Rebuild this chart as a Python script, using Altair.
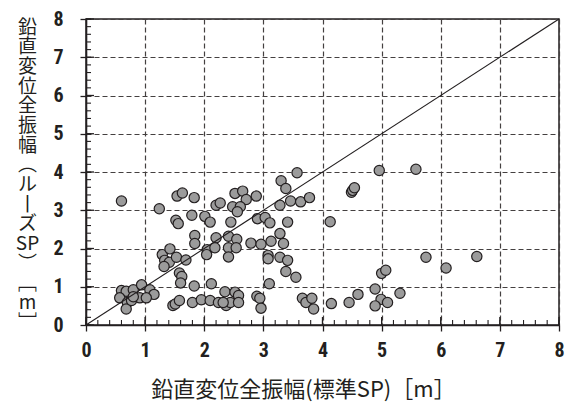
import altair as alt
import pandas as pd

# Full-amplitude vertical displacement: standard SP (x) vs loose SP (y), in metres
std_sp = [
    0.60, 1.24, 1.54, 1.63, 1.83, 1.52, 1.56, 1.79, 2.01, 2.10,
    2.20, 2.27, 2.52, 2.65, 2.88, 2.71, 2.48, 2.61, 2.56, 2.45,
    2.90, 3.03, 3.11, 3.28, 3.46, 3.63, 3.78, 3.30, 3.38, 3.57,
    3.41, 4.13, 4.49, 4.51, 4.54, 4.96, 5.58,
    1.84, 1.84, 2.20, 2.41, 2.55, 2.05, 2.18, 2.41, 2.54, 2.04,
    2.41, 2.79, 2.96, 3.13, 3.28, 3.34, 3.08, 3.08, 3.28, 3.41,
    3.38, 3.55, 3.10, 1.29, 1.42, 1.33, 1.41, 1.32, 1.53, 1.69,
    1.58, 1.62, 1.60, 1.83, 2.12,
    0.60, 0.68, 0.80, 0.94, 1.08, 1.15, 0.57, 0.70, 0.68, 0.77,
    0.91, 1.02, 0.80, 1.47, 1.51, 1.58, 1.80, 1.95, 2.10, 2.24,
    2.35, 2.37, 2.44, 2.52, 2.58, 2.58, 2.32, 2.89, 2.94, 2.96,
    3.66, 3.72, 3.82, 3.85, 4.15, 4.45, 4.60, 4.89, 4.99, 4.89,
    5.10, 5.31, 5.00, 5.07, 5.75, 6.09, 6.61,
]
loose_sp = [
    3.24, 3.04, 3.37, 3.45, 3.33, 2.74, 2.65, 2.87, 2.84, 2.69,
    3.13, 3.19, 3.44, 3.50, 3.37, 3.28, 3.09, 3.09, 2.96, 2.69,
    2.78, 2.81, 2.67, 3.13, 3.24, 3.22, 3.33, 3.77, 3.57, 3.98,
    2.69, 2.70, 3.47, 3.52, 3.59, 4.04, 4.07,
    2.34, 2.13, 2.28, 2.32, 2.24, 1.97, 2.02, 2.02, 2.02, 1.84,
    1.78, 2.14, 2.11, 2.19, 2.39, 2.13, 1.82, 1.73, 1.77, 1.69,
    1.40, 1.25, 1.08, 1.84, 1.99, 1.69, 1.64, 1.53, 1.77, 1.70,
    1.36, 1.27, 1.10, 1.02, 1.08,
    0.90, 0.88, 0.92, 1.05, 0.92, 0.80, 0.71, 0.59, 0.42, 0.64,
    0.71, 0.71, 0.74, 0.51, 0.55, 0.64, 0.59, 0.66, 0.64, 0.59,
    0.87, 0.51, 0.59, 0.86, 0.77, 0.59, 0.59, 0.75, 0.70, 0.44,
    0.70, 0.59, 0.70, 0.42, 0.56, 0.59, 0.80, 0.94, 0.67, 0.50,
    0.59, 0.83, 1.35, 1.43, 1.77, 1.49, 1.79,
]

axis_range = [0, 8]
major_ticks = [0, 1, 2, 3, 4, 5, 6, 7, 8]
minor_ticks = [round(i * 0.2, 1) for i in range(41)]
diag_ends = [0, 8]

W, H = 473, 306

pts = pd.DataFrame({"std": std_sp, "loose": loose_sp})
minor_df = pd.DataFrame({"std": minor_ticks, "loose": minor_ticks})
major_df = pd.DataFrame({"std": major_ticks, "loose": major_ticks})
diag_df = pd.DataFrame({"std": [diag_ends[0]], "loose": [diag_ends[0]],
                        "std2": [diag_ends[1]], "loose2": [diag_ends[1]]})

num_font = "Roboto Condensed, DejaVu Sans Condensed, Liberation Sans Narrow, sans-serif"
jp_font = "Noto Sans CJK JP"
ink = "#231f20"

y_title = ["鉛", "直", "変", "位", "全", "振", "幅", "︵", "ル", "丨",
           "ズ", "SP", "︶", "﹇", "m", "﹈"]

xscale = alt.Scale(domain=axis_range, nice=False, zero=False)
yscale = alt.Scale(domain=axis_range, nice=False, zero=False)

common_axis = dict(
    values=major_ticks, format="d", labelOverlap=False, labelFlush=False,
    grid=True, gridDash=[5, 3], gridColor="#444040", gridWidth=1.2,
    domainColor=ink, domainWidth=1.5,
    tickColor=ink, tickSize=6, tickWidth=1.3,
    labelFont=num_font, labelFontWeight="bold", labelFontSize=20,
    labelColor=ink,
    titleColor=ink, titleFont=jp_font, titleFontWeight="normal",
)

x_axis = alt.Axis(
    **common_axis,
    labelPadding=9, labelBaseline="top",
    title="鉛直変位全振幅(標準SP)［m］", titleFontSize=22,
    titleX=217, titleY=54, titleBaseline="top", titleAlign="center",
)
y_axis = alt.Axis(
    **common_axis,
    labelPadding=17,
    title=y_title, titleFontSize=19, titleAngle=0,
    titleAlign="center", titleBaseline="top", titleLineHeight=19.7,
    titleX=-59, titleY=-1,
)

X = alt.X("std:Q", scale=xscale, axis=x_axis)
Y = alt.Y("loose:Q", scale=yscale, axis=y_axis)

scatter = alt.Chart(pts).mark_point(
    filled=True, shape="circle", size=105, fill="#9b9b9b",
    stroke=ink, strokeWidth=1.2, opacity=1,
).encode(x=X, y=Y)

diagonal = alt.Chart(diag_df).mark_rule(color=ink, strokeWidth=1.1).encode(
    x=X, y=Y, x2="std2:Q", y2="loose2:Q",
)

# inward minor ticks along the bottom and left edges
x_minor = alt.Chart(minor_df).mark_rule(color=ink, strokeWidth=1.1).encode(
    x=X, y=alt.value(H), y2=alt.value(H - 5),
)
y_minor = alt.Chart(minor_df).mark_rule(color=ink, strokeWidth=1.1).encode(
    y=Y, x=alt.value(0), x2=alt.value(5),
)
# inward part of the major ticks
x_major = alt.Chart(major_df).mark_rule(color=ink, strokeWidth=1.3).encode(
    x=X, y=alt.value(H), y2=alt.value(H - 8),
)
y_major = alt.Chart(major_df).mark_rule(color=ink, strokeWidth=1.3).encode(
    y=Y, x=alt.value(0), x2=alt.value(8),
)

chart = alt.layer(
    scatter, diagonal, x_minor, y_minor, x_major, y_major
).properties(
    width=W, height=H,
    autosize=alt.AutoSizeParams(type="none"),
    padding={"left": 86, "top": 19, "right": 577 - 86 - W, "bottom": 403 - 19 - H},
    background="white",
).configure_view(
    stroke=ink, strokeWidth=1.5,
)

chart.save("out.html", embed_options={"renderer": "svg", "actions": False})
